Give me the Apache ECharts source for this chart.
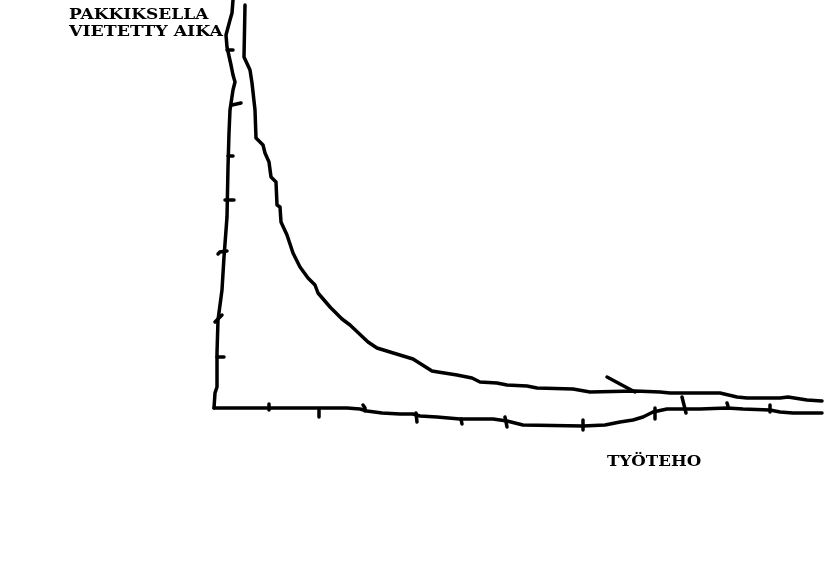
<!DOCTYPE html>
<html>
<head>
<meta charset="utf-8">
<style>html,body{margin:0;padding:0;background:#fff}#c{width:824px;height:574px}</style>
<script src="https://cdn.jsdelivr.net/npm/echarts@6/dist/echarts.min.js"></script>
</head>
<body>
<div id="c"></div>
<script>
// Hand-drawn sketch. Origin at the axis corner.
const yAxisTitle = ['PAKKIKSELLA', 'VIETETTY AIKA'];
const xAxisTitle = 'TYÖTEHO';

// hand-drawn vertical axis stroke
const yAxisStroke = [[19,408],[18,395],[16,388],[12,373],[13,361],[17,343],[19,333],[21,326],[19,318],[16,298],[15,275],[14,241],[13,191],[10,151],[8,118],[4,88],[3,55],[3,21],[1,15],[0,0]];
// hand-drawn horizontal axis stroke
const xAxisStroke = [[0,0],[133,0],[146,-1],[153,-3],[168,-5],[186,-6],[199,-6],[206,-8],[223,-9],[246,-11],[279,-11],[293,-13],[309,-17],[369,-18],[391,-17],[406,-14],[419,-12],[429,-9],[439,-4],[453,-1],[486,-1],[513,0],[529,-1],[556,-2],[566,-4],[579,-5],[608,-5]];
// the curve: time vs. work output
const curve = [[31,403],[30,351],[36,338],[38,325],[41,298],[42,270],[49,263],[51,255],[55,246],[57,231],[62,226],[63,203],[66,201],[67,186],[73,173],[79,155],[86,141],[94,130],[101,123],[104,115],[116,101],[128,89],[136,83],[154,66],[163,60],[176,56],[199,49],[218,37],[224,36],[243,33],[258,30],[266,26],[283,25],[293,23],[313,22],[323,20],[359,19],[376,16],[421,17],[446,16],[456,15],[506,15],[523,11],[533,10],[566,10],[574,11],[593,8],[608,7]];
// small extra stroke on the curve
const hook = [[393,31],[406,24],[421,16]];
// tick marks on the vertical axis
const yTicks = [
  [[13,358],[19,358]],
  [[18,303],[27,305]],
  [[14,252],[19,252]],
  [[11,208],[20,208]],
  [[4,154],[6,156],[13,157]],
  [[1,86],[8,93]],
  [[3,51],[10,51]]
];
// tick marks on the horizontal axis
const xTicks = [
  [[55,4],[55,-2]],
  [[105,-2],[105,-9]],
  [[149,3],[151,0],[151,-3]],
  [[202,-5],[203,-14]],
  [[247,-11],[248,-16]],
  [[291,-9],[293,-19]],
  [[369,-12],[369,-22]],
  [[441,0],[441,-11]],
  [[468,11],[472,-5]],
  [[513,5],[514,2]],
  [[556,3],[556,-4]]
];

const stroke = {color:'#000', width:3.5, cap:'round', join:'round'};
const lineSeries = (d) => ({type:'line', data:d, symbol:'none', showSymbol:false, smooth:false, clip:false, lineStyle:stroke, silent:true});
const tickSeries = (t) => ({type:'lines', coordinateSystem:'cartesian2d', polyline:true, silent:true,
  data:t.map(c => ({coords:c})), lineStyle:{color:'#000', width:3.5, opacity:1, cap:'round'}});

const font = 'bold 14px "DejaVu Serif"';
const chart = echarts.init(document.getElementById('c'));
chart.setOption({
  animation:false,
  backgroundColor:'#fff',
  grid:{left:0, right:0, top:0, bottom:0},
  xAxis:{type:'value', min:-214, max:610, show:false},
  yAxis:{type:'value', min:-166, max:408, show:false},
  series:[
    lineSeries(yAxisStroke),
    lineSeries(xAxisStroke),
    lineSeries(curve),
    lineSeries(hook),
    tickSeries(yTicks),
    tickSeries(xTicks)
  ],
  graphic:[
    {type:'text', x:69, y:15, scaleX:1.215, style:{text:yAxisTitle[0], font:font, fill:'#000', textVerticalAlign:'middle'}},
    {type:'text', x:69, y:32, scaleX:1.24, style:{text:yAxisTitle[1], font:font, fill:'#000', textVerticalAlign:'middle'}},
    {type:'text', x:607, y:462, scaleX:1.19, style:{text:xAxisTitle, font:font, fill:'#000', textVerticalAlign:'middle'}}
  ]
});
</script>
</body>
</html>
